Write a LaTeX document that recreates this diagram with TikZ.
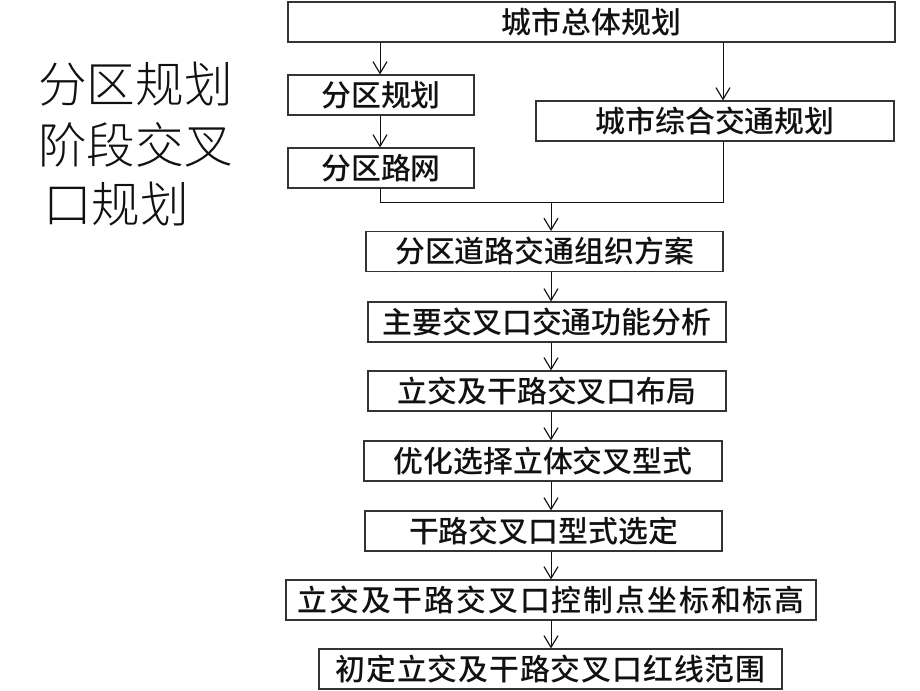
\documentclass[tikz,border=0pt]{standalone}
\usepackage{fontspec}
\usepackage{xcolor}
\usepackage{tikz}
\usetikzlibrary{arrows.meta}
\newfontfamily\cjk{Noto Sans CJK SC Medium}
\newfontfamily\cjkthin{Noto Sans CJK SC Light}
\definecolor{ink}{HTML}{111111}
\definecolor{frame}{HTML}{333333}
\tikzset{
  box/.style={draw=frame, line width=0.9pt, minimum width=#1*0.03cm, minimum height=1.2cm,
    inner sep=0pt, text=ink, font=\cjk\fontsize{25.5}{28}\selectfont},
  arr/.style={draw=ink, line width=0.7pt, -{Straight Barb[length=10pt,width=12pt,line width=1pt]}},
  line/.style={draw=ink, line width=0.7pt},
  title/.style={anchor=west, inner sep=0pt, text=ink, font=\cjkthin\fontsize{41.5}{44}\selectfont}
}

\begin{document}
\begin{tikzpicture}[x=0.03cm, y=-0.03cm]
  \useasboundingbox (0,0) rectangle (920,690);

  \node[title] (t1) at (38,84)  {分区规划};
  \node[title] (t2) at (38,145) {阶段交叉};
  \node[title] (t3) at (43,204) {口规划};

  \node[box=607] (top) at (591.5,22)  {城市总体规划};
  \node[box=186] (fq)  at (381,95)    {分区规划};
  \node[box=358] (zh)  at (715,121)   {城市综合交通规划};
  \node[box=186] (lw)  at (381,168)   {分区路网};
  \node[box=357] (zz)  at (544.5,251.5) {分区道路交通组织方案};
  \node[box=358] (zy)  at (547,322)   {主要交叉口交通功能分析};
  \node[box=358] (bj)  at (547,391)   {立交及干路交叉口布局};
  \node[box=358] (yh)  at (543,461)   {优化选择立体交叉型式};
  \node[box=357] (xd)  at (543.5,531) {干路交叉口型式选定};
  \node[box=530] (kz)  at (551,600)   {\addfontfeature{LetterSpace=6.5}立交及干路交叉口控制点坐标和标高};
  \node[box=463] (hx)  at (550.5,669) {\addfontfeature{LetterSpace=3}初定立交及干路交叉口红线范围};

  \coordinate (jL) at (380,202);
  \coordinate (jR) at (723,202);
  \coordinate (jM) at (551,202);

  \draw[arr] (top.south -| jL) -- (fq.north -| jL);
  \draw[arr] (fq.south -| jL) -- (lw.north -| jL);
  \draw[arr] (top.south -| jR) -- (zh.north -| jR);
  \draw[line] (lw.south -| jL) -- (jL) -- (jR) -- (zh.south -| jR);
  \draw[arr] (jM) -- (zz.north -| jM);

  \foreach \a/\b in {zz/zy, zy/bj, bj/yh, yh/xd, xd/kz, kz/hx}
    \draw[arr] (\a.south -| jM) -- (\b.north -| jM);
\end{tikzpicture}
\end{document}
